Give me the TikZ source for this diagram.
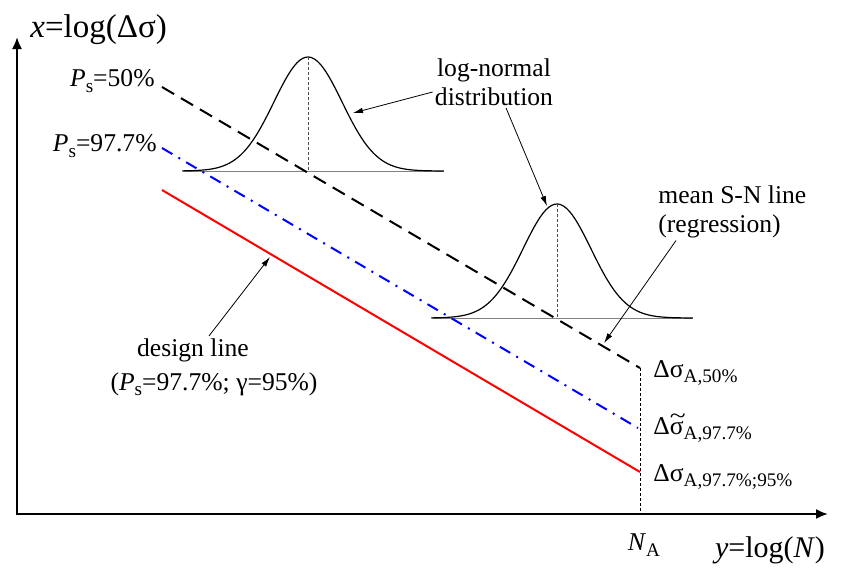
\documentclass[tikz,border=0pt]{standalone}
\usepackage{fontspec}
\setmainfont{Liberation Serif}
\usetikzlibrary{arrows.meta}
\newcommand{\lsub}[1]{\raisebox{-0.45ex}{\fontsize{9.6}{10}\selectfont #1}}
\newcommand{\tsigma}{\rlap{\raisebox{0.42em}{\scalebox{1.15}[0.9]{\char`\~}}}σ}

\begin{document}
\begin{tikzpicture}[
    x=0.5pt, y=-0.5pt,
    lbl/.style={font=\fontsize{12.8}{14.5}\selectfont, inner sep=1pt},
    axlbl/.style={font=\fontsize{15}{17}\selectfont, inner sep=1pt},
    axisln/.style={line width=1pt, {Latex[length=6pt,width=5pt]}-{Latex[length=6pt,width=5pt]}},
    note/.style={line width=0.4pt, -{Latex[length=5pt,width=2.8pt]}},
    bell/.style={line width=0.6pt},
    meanline/.style={line width=1pt, dash pattern=on 7pt off 4pt},
    charline/.style={line width=1pt, blue, dash pattern=on 6pt off 3.5pt on 1pt off 3.5pt},
    designln/.style={line width=1pt, red},
    guide/.style={line width=0.4pt, dash pattern=on 1.5pt off 1pt}
  ]
  \useasboundingbox (0,0) rectangle (841,568);

  % axes
  \coordinate (O) at (17,514);
  \coordinate (ytop) at (17,37);
  \coordinate (xend) at (828,514);
  \draw[axisln] (ytop) -- (O) -- (xend);

  % log-normal densities
  \foreach \bx/\by/\nm in {308/171/b1, 557/318/b2} {
    \draw[gray, line width=0.4pt] (\bx-125,\by) -- (\bx+135,\by);
    \draw[bell] plot[domain=-3.7:4, samples=90] ({\bx+34*\x},{\by-114*exp(-\x*\x/2)});
    \coordinate (\nm top) at (\bx,\by-114);
    \coordinate (\nm base) at (\bx,\by);
    \draw[guide, gray!60!black] (\nm top) -- (\nm base);
  }

  % S-N lines
  \coordinate (m0) at (162,87);   \coordinate (m1) at (640,368);
  \coordinate (c0) at (162,148);  \coordinate (c1) at (638,428);
  \coordinate (d0) at (162,190);  \coordinate (d1) at (640,472);
  \draw[meanline] (m0) -- (m1);
  \draw[charline] (c0) -- (c1);
  \draw[designln] (d0) -- (d1);
  \draw[guide] (m1) -- (m1 |- O);

  % labels
  \node[axlbl, font=\fontsize{16.5}{18}\selectfont, anchor=west] (xlab) at (28,30) {\textit{x}=log(Δσ)};
  \node[axlbl] (ylab) at (770,550) {\textit{y}=log(\textit{N})};
  \node[lbl] (na) at (644,545) {\textit{N}\lsub{A}};
  \node[lbl, anchor=east] (p50) at (157,81) {\textit{P}\lsub{s}=50\%};
  \node[lbl, anchor=east] (p977) at (159,146) {\textit{P}\lsub{s}=97.7\%};
  \node[lbl, anchor=west] (sa50) at (651,373) {Δσ\lsub{A,50\%}};
  \node[lbl, anchor=west] (sa977) at (651,428) {Δ\tsigma\lsub{A,97.7\%}};
  \node[lbl, anchor=west] (sad) at (651,477) {Δσ\lsub{A,97.7\%;95\%}};
  \node[lbl, align=center] (lognorm) at (494,82) {log-normal\\distribution};
  \node[lbl, align=left, anchor=west] (msn) at (656,212) {mean S-N line\\(regression)};
  \node[lbl] (dl1) at (193,350) {design line};
  \node[lbl] (dl2) at (214,384) {(\textit{P}\lsub{s}=97.7\%; γ=95\%)};

  % pointers
  \coordinate (t1) at (353,113);
  \coordinate (t3) at (604,343);
  \coordinate (t4) at (270,257);
  \draw[note] ([yshift=-5pt]lognorm.west) -- (t1);
  \draw[note] ([xshift=6pt]lognorm.south) -- ([xshift=-5pt,yshift=-1pt]b2top);
  \draw[note] ([xshift=10pt]msn.south west) -- (t3);
  \draw[note] ([xshift=8pt]dl1.north) -- (t4);
\end{tikzpicture}
\end{document}
